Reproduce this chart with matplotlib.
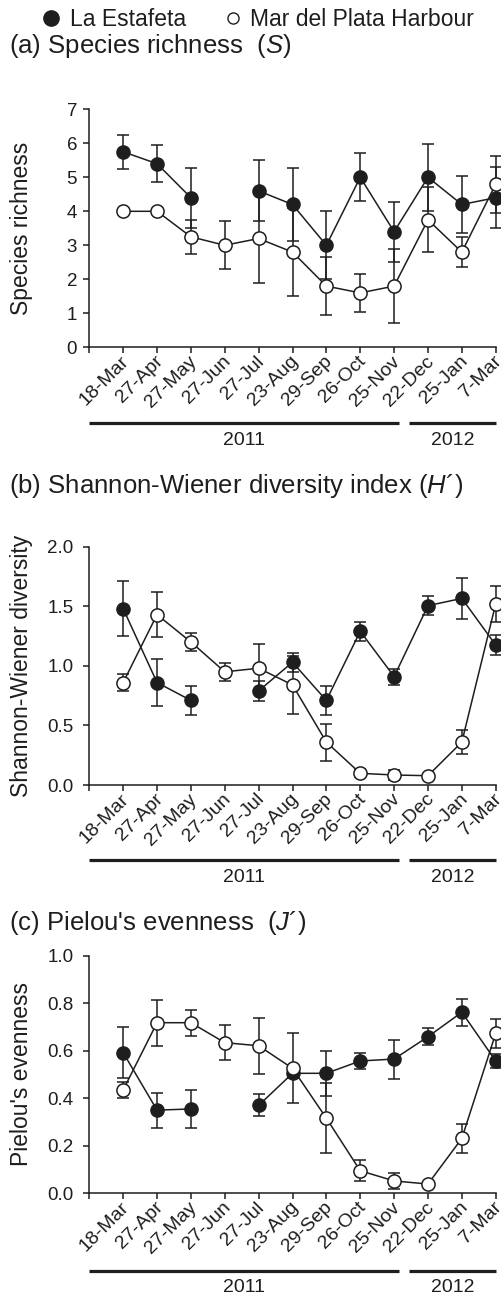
import numpy as np
import matplotlib
matplotlib.use("Agg")
import matplotlib.pyplot as plt
import matplotlib.transforms as mtransforms
from matplotlib.lines import Line2D

plt.rcParams["font.family"] = ["Liberation Sans", "DejaVu Sans"]
plt.rcParams["mathtext.fontset"] = "custom"
plt.rcParams["mathtext.rm"] = "Liberation Sans"
plt.rcParams["mathtext.it"] = "Liberation Sans:italic"

nan = np.nan
dates = ["18-Mar", "27-Apr", "27-May", "27-Jun", "27-Jul", "23-Aug",
         "29-Sep", "26-Oct", "25-Nov", "22-Dec", "25-Jan", "7-Mar"]
years = ["2011", "2012"]
year_spans = [(-1, 8.15), (8.44, 11)]

# (a) species richness, mean +/- error
S_est = [5.75, 5.4, 4.4, nan, 4.6, 4.2, 3.0, 5.0, 3.4, 5.0, 4.2, 4.4]
S_est_err = [0.5, 0.55, 0.88, nan, 0.9, 1.08, 1.0, 0.71, 0.88, 0.98, 0.83, 0.9]
S_mdp = [4.0, 4.0, 3.25, 3.0, 3.2, 2.8, 1.8, 1.6, 1.8, 3.75, 2.8, 4.8]
S_mdp_err = [0, 0, 0.5, 0.7, 1.3, 1.3, 0.86, 0.55, 1.1, 0.96, 0.44, 0.84]

# (b) Shannon-Wiener H'
H_est = [1.48, 0.86, 0.71, nan, 0.79, 1.03, 0.71, 1.29, 0.91, 1.505, 1.566, 1.175]
H_est_err = [0.23, 0.2, 0.12, nan, 0.085, 0.08, 0.125, 0.08, 0.067, 0.08, 0.172, 0.08]
H_mdp = [0.86, 1.43, 1.2, 0.95, 0.98, 0.84, 0.36, 0.098, 0.084, 0.078, 0.36, 1.52]
H_mdp_err = [0.07, 0.19, 0.075, 0.075, 0.2, 0.24, 0.155, 0.035, 0.04, 0, 0.1, 0.15]

# (c) Pielou J'
J_est = [0.592, 0.35, 0.355, nan, 0.37, 0.505, 0.505, 0.557, 0.565, 0.659, 0.762, 0.557]
J_est_err = [0.107, 0.074, 0.08, nan, 0.046, 0.02, 0.095, 0.032, 0.082, 0.036, 0.056, 0.03]
J_mdp = [0.435, 0.718, 0.718, 0.634, 0.621, 0.526, 0.316, 0.095, 0.052, 0.039, 0.231, 0.673]
J_mdp_err = [0.035, 0.097, 0.055, 0.073, 0.118, 0.147, 0.148, 0.044, 0.033, 0, 0.061, 0.062]

W, H = 501, 1296
INK = "#1e1e1e"
fig = plt.figure(figsize=(W / 100, H / 100), dpi=100)

def px_axes(top, bottom, left=89.3, right=495.7):
    return fig.add_axes([left / W, 1 - bottom / H, (right - left) / W, (bottom - top) / H])

x = np.arange(len(dates))

def panel(ax, est, est_err, mdp, mdp_err, ylim, yticks, yfmt, ylabel, ypad, bar_y, text_y):
    ax.errorbar(x, est, yerr=est_err, fmt="none", ecolor=INK, elinewidth=1.1,
                capsize=4.5, capthick=1.1, clip_on=False, zorder=2)
    ax.plot(x, est, "-o", color=INK, lw=1.1, ms=9.5, mfc=INK, mec=INK,
            clip_on=False, zorder=3)
    ax.errorbar(x, mdp, yerr=mdp_err, fmt="none", ecolor=INK, elinewidth=1.1,
                capsize=4.5, capthick=1.1, clip_on=False, zorder=4)
    ax.plot(x, mdp, "-o", color=INK, lw=1.1, ms=9.5, mfc="white", mec=INK,
            mew=1.1, clip_on=False, zorder=5)

    ax.set_xlim(-1, 11)
    ax.set_ylim(*ylim)
    ax.set_yticks(yticks)
    ax.set_yticklabels([yfmt.format(v) for v in yticks])
    ax.set_xticks(np.arange(-1, 12))
    ax.set_xticklabels([""] + dates)
    for s in ["top", "right"]:
        ax.spines[s].set_visible(False)
    for s in ["left", "bottom"]:
        ax.spines[s].set_linewidth(1.1)
        ax.spines[s].set_color(INK)
    ax.tick_params(axis="both", direction="out", length=4.3, width=1.1, color=INK,
                   labelcolor=INK)
    ax.tick_params(axis="y", labelsize=13.5, pad=ypad)
    ax.tick_params(axis="x", labelsize=14, pad=4)
    shift = mtransforms.ScaledTranslation(2.2 / 72, 0, fig.dpi_scale_trans)
    for lab in ax.get_xticklabels():
        lab.set_rotation(45)
        lab.set_ha("right")
        lab.set_va("center")
        lab.set_rotation_mode("anchor")
        lab.set_transform(lab.get_transform() + shift)

    ax.set_ylabel(ylabel, fontsize=16.5, color=INK)
    ax.yaxis.set_label_coords(-0.139, 0.5)

    trans = mtransforms.blended_transform_factory(ax.transData, ax.transAxes)
    for yr, (x0, x1) in zip(years, year_spans):
        ax.plot([x0, x1], [bar_y, bar_y], color=INK, lw=2.3, transform=trans,
                clip_on=False, solid_capstyle="butt")
        ax.text((x0 + x1) / 2, text_y, yr, transform=trans, ha="center",
                va="baseline", fontsize=14, color=INK)

ax_a = px_axes(109.3, 347.3)
panel(ax_a, S_est, S_est_err, S_mdp, S_mdp_err, (0, 7), list(range(8)), "{:.0f}",
      "Species richness", 4.5, -0.319, -0.41)

ax_b = px_axes(546.7, 785)
panel(ax_b, H_est, H_est_err, H_mdp, H_mdp_err, (0, 2), [0, 0.5, 1.0, 1.5, 2.0], "{:.1f}",
      "Shannon-Wiener diversity", 7, -0.315, -0.406)

ax_c = px_axes(955.7, 1193.3)
panel(ax_c, J_est, J_est_err, J_mdp, J_mdp_err, (0, 1), [0, 0.2, 0.4, 0.6, 0.8, 1.0], "{:.1f}",
      "Pielou's evenness", 7, -0.326, -0.415)

# panel titles
titles = ["(a) Species richness  ($S$)",
          "(b) Shannon-Wiener diversity index ($H$\u00b4)",
          "(c) Pielou's evenness  ($J$\u00b4)"]
title_base = [52.5, 493, 929.6]
for t, yb in zip(titles, title_base):
    fig.text(9 / W, 1 - yb / H, t, fontsize=18.5, color=INK, ha="left", va="baseline")

# legend at the top
leg_base = 25.5
fig.add_artist(Line2D([51 / W], [1 - (leg_base - 7.5) / H], marker="o", ms=11, color=INK,
                      mfc=INK, mec=INK, transform=fig.transFigure))
fig.text(70 / W, 1 - leg_base / H, "La Estafeta", fontsize=16.5, color=INK,
         ha="left", va="baseline")
fig.add_artist(Line2D([233 / W], [1 - (leg_base - 7.5) / H], marker="o", ms=8, color=INK,
                      mfc="white", mec=INK, mew=1.0, transform=fig.transFigure))
fig.text(250 / W, 1 - leg_base / H, "Mar del Plata Harbour", fontsize=16.5, color=INK,
         ha="left", va="baseline")

fig.savefig("out.png", dpi=100)
